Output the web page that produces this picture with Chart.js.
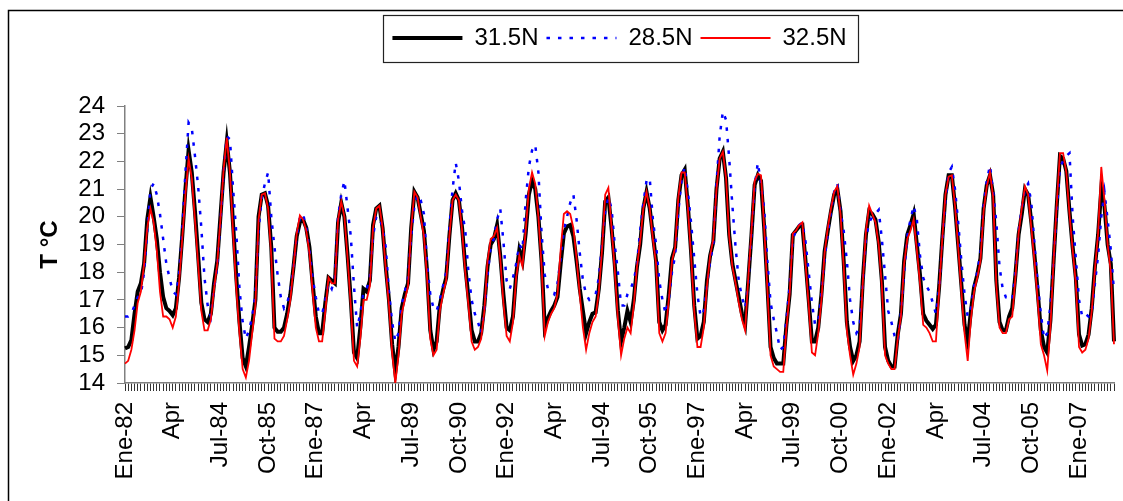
<!DOCTYPE html>
<html>
<head>
<meta charset="utf-8">
<title>Temperatura mensual</title>
<script src="https://cdn.jsdelivr.net/npm/chart.js@4"></script>
<style>
  html, body { margin: 0; padding: 0; background: #fff; }
  #wrap { width: 1123px; height: 501px; position: relative; }
</style>
</head>
<body>
<div id="wrap"><canvas id="tempChart"></canvas></div>
<script>
// Monthly series Jan 1982 - Dec 2007
const meses = ['Ene', 'Feb', 'Mar', 'Apr', 'May', 'Jun', 'Jul', 'Aug', 'Sep', 'Oct', 'Nov', 'Dic'];
const firstYear = 1982;
const lastYear = 2007;

// labels written under the axis, one every 15 months
const tickLabels = ['Ene-82', 'Apr', 'Jul-84', 'Oct-85', 'Ene-87', 'Apr', 'Jul-89', 'Oct-90', 'Ene-92', 'Apr',
  'Jul-94', 'Oct-95', 'Ene-97', 'Apr', 'Jul-99', 'Oct-00', 'Ene-02', 'Apr', 'Jul-04', 'Oct-05', 'Ene-07'];
const labelStep = 15;

const seriesNames = ['31.5N', '28.5N', '32.5N'];

const lat315 = [
  15.25, 15.3, 15.55, 16.5, 17.3, 17.6, 18.3, 19.9, 20.7, 20.0, 19.2, 18.0,
  17.1, 16.7, 16.6, 16.45, 16.7, 17.8, 19.3, 21.0, 22.4, 21.6, 20.2, 18.6,
  16.9, 16.3, 16.2, 16.5, 17.6, 18.4, 20.0, 21.6, 22.7, 21.6, 19.7, 17.8,
  16.2, 14.9, 14.6, 15.3, 16.1, 17.0, 20.0, 20.8, 20.85, 20.4, 18.9, 16.0,
  15.85, 15.85, 16.0, 16.5, 17.2, 18.2, 19.3, 19.8, 19.9, 19.6, 18.9, 17.6,
  16.4, 15.8, 15.8, 16.9, 17.8, 17.7, 17.6, 19.8, 20.5, 20.0, 18.6, 17.0,
  15.1, 14.9, 16.0, 17.4, 17.3, 17.7, 19.7, 20.3, 20.4, 19.6, 18.2, 17.0,
  15.4, 14.4, 15.3, 16.7, 17.2, 17.6, 19.6, 20.9, 20.7, 20.1, 19.5, 18.0,
  15.9, 15.2, 15.5, 16.8, 17.35, 17.8, 19.3, 20.6, 20.85, 20.6, 19.6, 18.2,
  17.1, 15.9, 15.5, 15.5, 15.8, 16.8, 18.2, 19.0, 19.2, 19.7, 18.6, 17.2,
  16.0, 15.9, 16.4, 17.9, 18.8, 18.4, 19.4, 20.8, 21.3, 21.0, 20.0, 18.4,
  16.0, 16.35, 16.6, 16.8, 17.1, 18.3, 19.4, 19.65, 19.7, 19.3, 18.4, 17.4,
  16.6, 15.8, 16.2, 16.5, 16.55, 17.4, 18.7, 20.55, 20.7, 19.6, 18.3, 16.6,
  15.5, 16.0, 16.6, 16.2, 17.0, 18.2, 19.0, 20.3, 20.9, 20.3, 19.35, 18.4,
  16.2, 15.9, 16.1, 17.2, 18.5, 18.9, 20.6, 21.5, 21.7, 20.4, 18.75, 16.8,
  15.6, 15.7, 16.2, 17.7, 18.6, 19.1, 21.0, 22.1, 22.35, 21.4, 19.35, 18.3,
  17.7, 17.1, 16.5, 16.1, 17.7, 19.35, 21.15, 21.5, 21.3, 19.6, 17.55, 15.3,
  14.9, 14.7, 14.7, 14.7, 16.1, 17.2, 19.35, 19.5, 19.65, 19.7, 18.4, 17.0,
  15.5, 15.5, 16.0, 17.2, 18.75, 19.5, 20.2, 20.8, 21.0, 20.2, 18.4, 16.2,
  15.3, 14.8, 15.0, 15.5, 17.7, 19.35, 20.2, 20.1, 19.9, 19.1, 17.7, 15.3,
  14.8, 14.6, 14.6, 15.75, 16.5, 18.4, 19.35, 19.7, 20.1, 19.0, 17.9, 16.5,
  16.25, 16.1, 15.95, 16.1, 17.45, 19.2, 20.8, 21.5, 21.5, 20.4, 19.0, 17.55,
  16.1, 15.5, 16.6, 17.45, 17.9, 18.5, 20.3, 21.15, 21.5, 20.8, 17.7, 16.2,
  15.9, 15.9, 16.4, 16.7, 17.9, 19.35, 20.1, 21.0, 20.8, 19.8, 18.6, 17.3,
  15.9, 15.3, 15.1, 16.25, 18.4, 20.4, 22.2, 22.1, 21.65, 20.2, 18.9, 17.8,
  15.75, 15.35, 15.4, 15.75, 16.7, 18.2, 19.35, 21.0, 20.4, 19.0, 18.3, 15.5
];

const lat285 = [
  16.4, 16.4, 16.5, 16.8, 17.1, 17.2, 18.0, 19.5, 21.0, 21.2, 20.8, 20.1,
  19.2, 18.3, 17.8, 17.3, 17.2, 17.9, 19.5, 21.6, 23.4, 23.2, 22.2, 21.1,
  19.6, 17.8, 16.8, 16.4, 17.4, 18.2, 19.8, 21.6, 22.9, 22.8, 21.0, 19.4,
  17.4, 16.2, 15.6, 15.9, 16.4, 17.2, 19.5, 20.7, 21.2, 21.6, 20.0, 18.9,
  17.9, 17.1, 16.7, 16.9, 17.3, 18.2, 19.3, 20.0, 20.1, 19.6, 18.8, 17.8,
  17.1, 16.5, 16.5, 17.0, 17.6, 17.4, 17.8, 20.0, 20.8, 21.3, 20.3, 19.3,
  17.5, 16.0, 16.5, 17.3, 17.4, 17.8, 19.3, 20.0, 20.0, 19.6, 18.9, 17.3,
  16.2, 15.5, 15.8, 16.8, 17.3, 17.8, 19.3, 20.4, 20.8, 20.6, 20.1, 18.3,
  17.2, 16.7, 16.6, 17.0, 17.5, 18.0, 19.6, 21.0, 21.95, 21.3, 20.2, 19.5,
  18.0, 17.0, 16.5, 16.2, 15.8, 16.6, 17.9, 18.9, 19.2, 19.9, 20.3, 19.1,
  17.7, 17.4, 17.8, 18.3, 19.0, 18.8, 20.6, 21.8, 22.4, 22.6, 21.6, 19.4,
  17.9, 17.4, 17.3, 17.2, 17.6, 18.5, 19.5, 20.0, 20.5, 20.8, 19.9, 18.7,
  17.7, 17.2, 17.0, 17.1, 17.2, 17.8, 19.0, 20.2, 20.7, 20.3, 19.0, 18.0,
  16.8, 16.8, 17.2, 17.4, 17.7, 18.3, 19.5, 20.5, 21.3, 21.4, 19.9, 19.0,
  17.7, 17.0, 16.5, 17.0, 18.0, 18.6, 20.2, 21.3, 21.8, 20.9, 19.8, 18.5,
  17.2, 16.4, 16.6, 17.5, 18.4, 19.0, 21.2, 22.9, 23.8, 23.5, 22.1, 20.4,
  18.9, 17.7, 17.1, 16.7, 17.6, 19.4, 21.1, 21.95, 21.2, 20.3, 18.4, 16.9,
  16.3, 15.8, 15.2, 15.3, 16.3, 17.5, 19.2, 19.5, 19.7, 19.8, 19.1, 18.0,
  16.9, 16.1, 16.2, 17.2, 18.5, 19.4, 20.2, 20.9, 21.2, 20.2, 19.5, 18.4,
  17.0, 16.2, 15.8, 16.0, 17.6, 19.2, 19.8, 20.0, 20.1, 20.25, 19.2, 17.9,
  16.6, 16.2, 15.7, 15.5, 16.5, 18.0, 19.3, 19.9, 20.4, 19.9, 18.6, 17.8,
  17.5, 17.3, 16.9, 16.5, 17.4, 19.1, 20.6, 21.6, 21.8, 21.0, 19.8, 18.4,
  17.2, 16.4, 16.7, 17.5, 18.0, 18.7, 20.4, 21.3, 21.85, 20.9, 19.8, 18.2,
  17.4, 17.1, 17.1, 17.0, 18.0, 19.5, 20.3, 21.0, 21.2, 20.5, 19.0, 17.6,
  16.5, 15.6, 15.8, 16.8, 18.4, 20.2, 21.8, 22.0, 22.2, 22.3, 20.0, 18.5,
  17.0, 16.4, 16.5, 16.4, 16.5, 17.6, 18.6, 20.0, 20.9, 19.9, 18.8, 17.3
];

const lat325 = [
  14.7, 14.8, 15.2, 15.9, 16.9, 17.3, 18.3, 19.6, 20.3, 19.8, 18.8, 17.3,
  16.4, 16.4, 16.3, 16.0, 16.4, 17.6, 19.2, 20.8, 22.1, 21.4, 19.9, 18.3,
  16.6, 15.9, 15.9, 16.3, 17.4, 18.3, 19.9, 21.7, 22.85, 21.6, 19.4, 17.4,
  15.8, 14.5, 14.2, 14.8, 15.8, 16.8, 19.9, 20.8, 20.85, 20.3, 18.6, 15.6,
  15.5, 15.5, 15.7, 16.3, 17.0, 18.2, 19.4, 20.05, 19.9, 19.5, 18.7, 17.3,
  16.0, 15.5, 15.5, 16.6, 17.8, 17.6, 17.6, 19.9, 20.55, 20.0, 18.5, 16.8,
  14.8, 14.6, 15.6, 17.0, 17.0, 17.5, 19.6, 20.3, 20.4, 19.6, 18.1, 16.8,
  15.1, 14.0, 15.0, 16.5, 17.0, 17.5, 19.6, 20.9, 20.7, 20.0, 19.3, 17.8,
  15.6, 15.0, 15.2, 16.6, 17.2, 17.7, 19.3, 20.6, 20.8, 20.6, 19.5, 18.0,
  16.8, 15.5, 15.2, 15.3, 15.6, 16.6, 18.4, 19.2, 19.3, 19.6, 18.5, 16.9,
  15.7, 15.5, 16.2, 17.8, 18.6, 18.2, 19.5, 21.0, 21.6, 21.2, 20.0, 18.2,
  15.7, 16.2, 16.5, 16.7, 17.2, 18.8, 20.1, 20.2, 20.1, 19.6, 18.5, 17.2,
  16.0, 15.2, 15.8, 16.2, 16.4, 17.3, 18.8, 20.8, 21.05, 19.6, 18.1, 16.3,
  15.0, 15.6, 16.0, 15.8, 16.8, 18.2, 19.1, 20.3, 20.9, 20.3, 19.2, 18.3,
  15.8, 15.5, 15.8, 17.0, 18.4, 18.9, 20.7, 21.6, 21.6, 20.3, 18.6, 16.6,
  15.3, 15.3, 16.0, 17.5, 18.6, 19.2, 21.0, 22.1, 22.35, 21.4, 19.3, 18.2,
  17.6, 16.9, 16.3, 15.9, 17.8, 19.5, 21.3, 21.55, 21.5, 19.6, 17.4, 15.0,
  14.6, 14.5, 14.4, 14.4, 16.0, 17.2, 19.4, 19.5, 19.7, 19.8, 18.3, 16.8,
  15.1, 15.0, 15.8, 17.0, 18.7, 19.6, 20.3, 20.9, 21.1, 20.1, 18.2, 15.9,
  15.0, 14.3, 14.7, 15.3, 17.6, 19.5, 20.4, 20.1, 19.8, 19.0, 17.5, 15.0,
  14.7, 14.5, 14.5, 15.6, 16.4, 18.3, 19.2, 19.5, 19.9, 18.8, 17.6, 16.1,
  16.0, 15.8, 15.5, 15.5, 17.3, 19.2, 20.8, 21.45, 21.5, 20.4, 18.9, 17.3,
  15.8, 14.8, 16.3, 17.3, 17.8, 18.4, 20.2, 21.1, 21.6, 20.7, 17.5, 16.0,
  15.8, 15.8, 16.3, 16.4, 17.8, 19.4, 20.3, 21.1, 20.8, 19.6, 18.4, 17.0,
  15.4, 15.0, 14.45, 16.0, 18.4, 20.5, 22.3, 22.3, 21.6, 20.1, 18.8, 17.6,
  15.3, 15.1, 15.2, 15.6, 16.6, 18.1, 19.4, 21.8, 20.6, 19.0, 18.0, 15.4
];

// category per month, e.g. Ene-82
const categories = [];
for (let y = firstYear; y <= lastYear; y++) {
  meses.forEach(m => categories.push(m + '-' + String(y).slice(2)));
}

const FONT = "'Liberation Sans', Arial, sans-serif";

// outer frame and the box round the legend
const frameBox = {
  id: 'frameBox',
  afterDraw(chart) {
    const c = chart.ctx;
    c.save();
    c.strokeStyle = '#000';
    c.lineWidth = 1.5;
    c.strokeRect(8.5, 10.5, 1200, 600);
    const hb = chart.legend.legendHitBoxes;
    if (hb && hb.length) {
      const first = hb[0];
      const last = hb[hb.length - 1];
      const left = Math.round(first.left - 9);
      const right = Math.round(last.left + last.width + 11);
      const cy = first.top + first.height / 2;
      c.lineWidth = 1.2;
      c.strokeStyle = '#222';
      c.strokeRect(left + 0.5, Math.round(cy - 23) + 0.5, right - left, 47);
    }
    c.restore();
  }
};

// legend samples take the dash and width of the dataset line
function legendItems(chart) {
  const items = Chart.defaults.plugins.legend.labels.generateLabels(chart);
  items.forEach(item => {
    const ds = chart.data.datasets[item.datasetIndex];
    item.lineDash = ds.borderDash || [];
    item.lineWidth = ds.borderWidth;
    item.strokeStyle = ds.borderColor;
  });
  return items;
}

const data = {
  labels: categories,
  datasets: [
    {
      label: seriesNames[0],
      data: lat315,
      borderColor: '#000000',
      backgroundColor: '#000000',
      borderWidth: 4,
      order: 3
    },
    {
      label: seriesNames[1],
      data: lat285,
      borderColor: '#0000ff',
      backgroundColor: '#0000ff',
      borderWidth: 2.5,
      borderDash: [3.5, 8],
      order: 2
    },
    {
      label: seriesNames[2],
      data: lat325,
      borderColor: '#ff0000',
      backgroundColor: '#ff0000',
      borderWidth: 1.8,
      order: 1
    }
  ]
};

const config = {
  type: 'line',
  data: data,
  plugins: [frameBox],
  options: {
    responsive: true,
    maintainAspectRatio: false,
    animation: false,
    events: [],
    layout: { padding: { top: 18, left: 0, right: 9, bottom: 0 } },
    elements: {
      point: { radius: 0 },
      line: { tension: 0, fill: false }
    },
    plugins: {
      legend: {
        position: 'top',
        align: 'center',
        fullSize: false,
        labels: {
          usePointStyle: true,
          pointStyle: 'line',
          pointStyleWidth: 70,
          padding: 8,
          color: '#000',
          font: { family: FONT, size: 24 },
          generateLabels: legendItems,
          sort: (a, b) => a.datasetIndex - b.datasetIndex
        }
      },
      // empty title used only as a gap between legend and plot
      title: {
        display: true,
        text: ' ',
        weight: 500,
        font: { size: 10 },
        padding: { top: 0, bottom: 34 }
      },
      tooltip: { enabled: false }
    },
    scales: {
      x: {
        ticks: {
          autoSkip: false,
          minRotation: 90,
          maxRotation: 90,
          padding: 11,
          color: '#000',
          font: { family: FONT, size: 24 },
          callback: (v, i) => (i % labelStep === 0 ? tickLabels[i / labelStep] : '')
        },
        grid: { drawOnChartArea: false, tickLength: 8, tickColor: '#333' },
        border: { color: '#808080', width: 1.5 },
        afterFit(scale) {
          scale.height = 118;
          scale.paddingLeft = 0;
          scale.paddingRight = 0;
        }
      },
      y: {
        min: 14,
        max: 24,
        ticks: { stepSize: 1, autoSkip: false, padding: 12, color: '#000', font: { family: FONT, size: 24 } },
        grid: { drawOnChartArea: false, tickLength: 8, tickColor: '#808080' },
        border: { color: '#808080', width: 1.5 },
        title: {
          display: true,
          text: 'T °C',
          color: '#000',
          font: { family: FONT, size: 24, weight: 'bold' },
          padding: { top: 36, bottom: 0 }
        },
        afterFit(scale) { scale.width = 125; }
      }
    }
  }
};

const ctx = document.getElementById('tempChart').getContext('2d');
const tempChart = new Chart(ctx, config);
</script>
</body>
</html>
